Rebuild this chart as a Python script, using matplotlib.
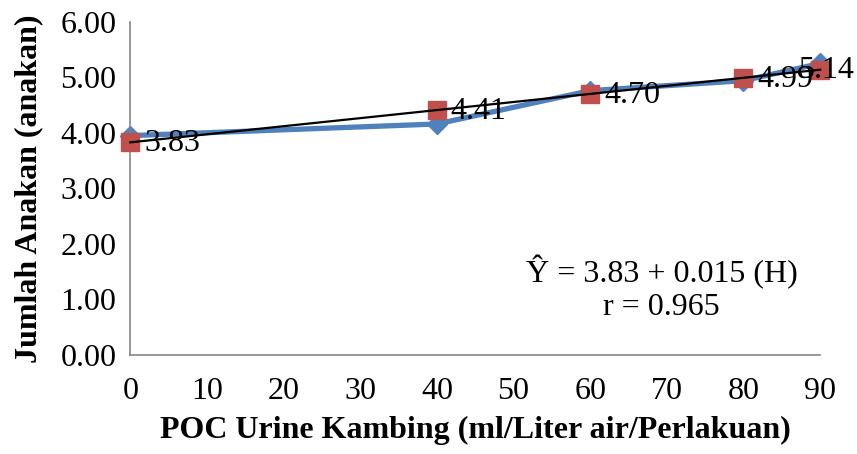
import numpy as np
import matplotlib.pyplot as plt

plt.rcParams['font.family'] = ['Liberation Serif', 'DejaVu Serif']

# data
dosis = [0, 40, 60, 80, 90]
jumlah_obs = [3.95, 4.16, 4.76, 4.94, 5.25]   # observasi
jumlah_pred = [3.83, 4.41, 4.70, 4.99, 5.14]  # prediksi regresi
label_pred = ['3.83', '4.41', '4.70', '4.99', '5.14']
xticks = [0, 10, 20, 30, 40, 50, 60, 70, 80, 90]
yticks = [0, 1, 2, 3, 4, 5, 6]

fig = plt.figure(figsize=(8.57, 4.54), dpi=100)
ax = fig.add_axes([0.152, 0.218, 0.805, 0.734])

ax.plot(dosis, jumlah_obs, color='#4F81BD', lw=3.8, marker='D', ms=10,
        clip_on=False, zorder=2)
ax.plot(dosis, jumlah_pred, ls='none', marker='s', ms=12.5, color='#C0504D',
        clip_on=False, zorder=3)

# garis tren linier
b, a = np.polyfit(dosis, jumlah_pred, 1)
xs = np.array([min(dosis), max(dosis)])
ax.plot(xs, a + b * xs, color='black', lw=1.6, zorder=4, clip_on=False)

for i, (x, y, t) in enumerate(zip(dosis, jumlah_pred, label_pred)):
    dx = 10 if i < len(dosis) - 1 else -16  # label terakhir digeser ke kiri
    ax.annotate(t, (x, y), xytext=(dx, -1), textcoords='offset points',
                ha='left', va='center', fontsize=23, zorder=5)

ax.text(0.77, 0.20, 'Ŷ = 3.83 + 0.015 (H)\nr = 0.965', transform=ax.transAxes,
        ha='center', va='center', fontsize=23, linespacing=1.2)

ax.set_xlim(0, 90)
ax.set_ylim(0, 6)
ax.set_xticks(xticks)
ax.set_yticks(yticks)
ax.set_yticklabels([f'{v:.2f}' for v in yticks])
ax.tick_params(length=0, labelsize=23, pad=10)
ax.tick_params(axis='x', pad=16)

for s in ['top', 'right']:
    ax.spines[s].set_visible(False)
for s in ['left', 'bottom']:
    ax.spines[s].set_color('#868686')
    ax.spines[s].set_linewidth(1.2)

ax.set_xlabel('POC Urine Kambing (ml/Liter air/Perlakuan)', fontsize=23,
              fontweight='bold', labelpad=7)
ax.set_ylabel('Jumlah Anakan (anakan)', fontsize=23, fontweight='bold',
              labelpad=12)

fig.savefig('out.png', dpi=100)
